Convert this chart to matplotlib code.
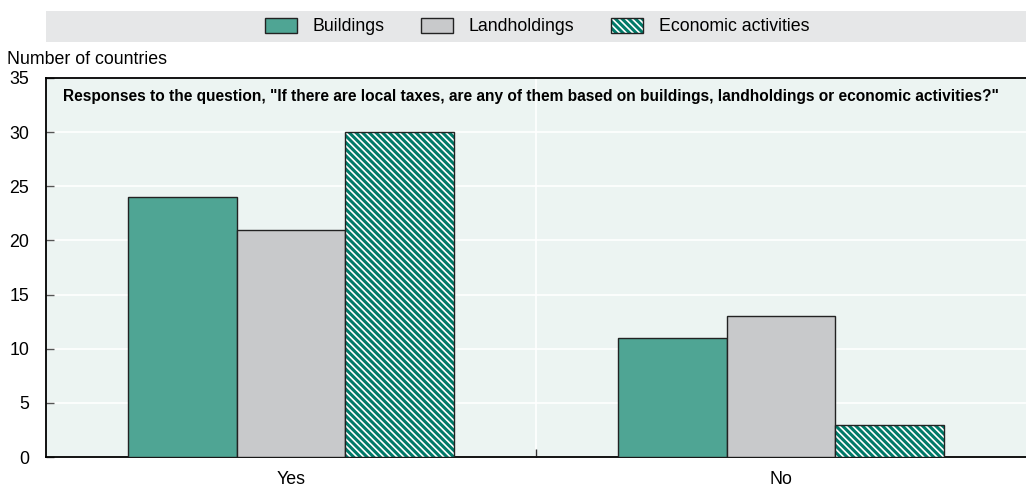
import matplotlib
matplotlib.use("Agg")
import matplotlib.pyplot as plt
import numpy as np
from matplotlib.patches import Patch, Rectangle
from matplotlib.legend_handler import HandlerTuple

categories = ["Yes", "No"]
series_names = ["Buildings", "Landholdings", "Economic activities"]
buildings = [24, 11]
landholdings = [21, 13]
economic = [30, 3]
yticks = [0, 5, 10, 15, 20, 25, 30, 35]

plt.rcParams['font.family'] = ['Liberation Sans Narrow', 'Liberation Sans', 'DejaVu Sans']
plt.rcParams['hatch.linewidth'] = 1.2

C_B = "#4fa594"
C_L = "#c8c9cb"
C_E = "#007a68"
BG = "#ecf4f2"
FS = 12.8

fig = plt.figure(figsize=(10.26, 4.87), dpi=100)
ax = fig.add_axes([46/1026, 1-457/487, 1-46/1026, (457-78)/487])
ax.set_facecolor(BG)

x = np.arange(len(categories))
w = 0.222
HATCH = "\\" * 5
ax.bar(x - w, buildings, w, color=C_B, edgecolor="#222222", linewidth=1.0, zorder=3)
ax.bar(x, landholdings, w, color=C_L, edgecolor="#222222", linewidth=1.0, zorder=3)
ax.bar(x + w, economic, w, color=C_E, edgecolor="white", hatch=HATCH, linewidth=0, zorder=3)
ax.bar(x + w, economic, w, fill=False, edgecolor="#222222", linewidth=1.0, zorder=4)

ax.set_xlim(-0.5, 1.5)
ax.set_ylim(0, 35)
ax.set_yticks(yticks)
ax.set_yticklabels([str(v) for v in yticks], fontsize=FS)
ax.set_xticks(x)
ax.set_xticklabels(categories, fontsize=FS)
ax.set_xticks([0.5], minor=True)
ax.tick_params(axis='x', which='major', length=0, pad=10)
ax.tick_params(axis='x', which='minor', length=6, direction='in', color="#333333", width=1)
ax.tick_params(axis='y', length=6, direction='in', color="#555555", width=1, pad=12)
ax.grid(axis='y', color='white', linewidth=1.2, zorder=1)
ax.grid(axis='x', which='minor', color='white', linewidth=1.2, zorder=1)
ax.set_axisbelow(True)

for s in ['left', 'bottom', 'top']:
    ax.spines[s].set_color('black')
    ax.spines[s].set_linewidth(1.3)
ax.spines['right'].set_visible(False)

ax.text(17/980, 1 - 19/379,
        'Responses to the question, "If there are local taxes, are any of them based on buildings, landholdings or economic activities?"',
        transform=ax.transAxes, fontsize=11.2, fontweight='bold', va='center', ha='left', zorder=5)

fig.text(7/1026, 1-60/487, "Number of countries", fontsize=FS, va='center', ha='left')

# legend band
fig.patches.append(Rectangle((46/1026, 1-42/487), 1-46/1026, 31/487, transform=fig.transFigure,
                             facecolor="#e6e7e8", edgecolor='none', zorder=0))
h1 = Patch(facecolor=C_B, edgecolor="#222222", linewidth=1.0)
h2 = Patch(facecolor=C_L, edgecolor="#222222", linewidth=1.0)
h3 = (Patch(facecolor=C_E, edgecolor="white", hatch=HATCH, linewidth=0),
      Patch(fill=False, edgecolor="#222222", linewidth=1.0))
fig.legend([h1, h2, h3], series_names, loc='center', bbox_to_anchor=(537/1026, 1-26.5/487),
           ncol=3, frameon=False, fontsize=FS, handlelength=1.8, handleheight=0.95,
           columnspacing=2.1, handletextpad=0.85, handler_map={tuple: HandlerTuple(ndivide=1)})

fig.savefig("out.png", dpi=100)
